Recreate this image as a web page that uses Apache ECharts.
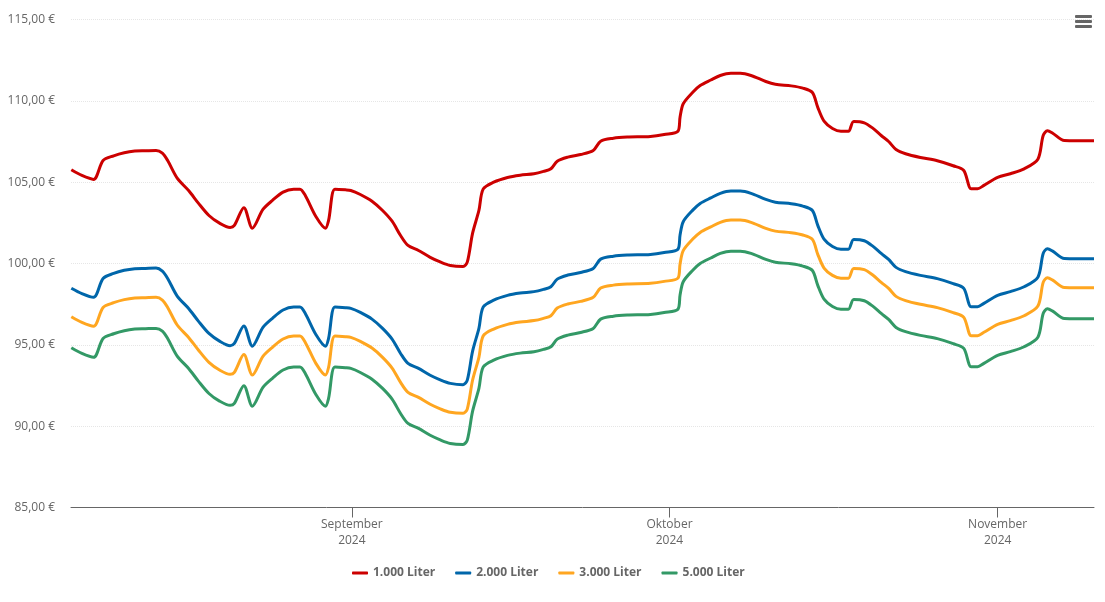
<!DOCTYPE html>
<html>
<head>
<meta charset="utf-8">
<title>Heizölpreise</title>
<style>
    html, body { margin: 0; padding: 0; background: #fff; }
    #chart { width: 1105px; height: 602px; }
</style>
<script src="https://cdn.jsdelivr.net/npm/echarts@6/dist/echarts.min.js"></script>
</head>
<body>
<div id="chart"></div>
<script>
// Tage relativ zum 1. September 2024
var dayOffsets = [-26.5,-25.5,-24.4,-23.5,-22.5,-21.5,-20.5,-19.5,-18.5,-17.9,-17.4,-16.5,-15.4,-14.5,-13.5,-12.5,-11.5,-11.1,-10.2,-9.4,-8.4,-7.5,-6.5,-5.5,-4.9,-4.4,-3.4,-2.5,-2.2,-1.6,-0.6,-0.1,0.8,1.9,2.9,3.8,4.6,5.3,6.3,7.4,8.4,9.3,10.5,10.9,11.4,12.0,12.4,13.4,14.7,15.9,17.2,18.1,18.8,19.4,20.4,21.6,22.8,23.5,24.7,26.0,28.2,29.5,30.8,31.0,31.3,32.2,32.9,33.9,34.8,35.8,36.7,37.7,39.1,40.0,41.5,42.6,43.5,44.0,44.6,45.4,46.2,46.9,47.4,48.4,49.2,50.0,50.7,51.4,52.3,53.7,55.3,56.8,57.8,58.5,59.1,59.7,61.0,62.2,63.5,64.8,65.3,65.7,66.2,67.3,70.1];

var liter1000 = [105.76,105.41,105.17,106.33,106.62,106.81,106.91,106.93,106.95,106.78,106.33,105.25,104.47,103.71,102.95,102.48,102.22,102.34,103.43,102.17,103.32,103.88,104.39,104.57,104.57,104.18,102.89,102.17,102.65,104.57,104.53,104.49,104.24,103.83,103.26,102.60,101.72,101.11,100.80,100.38,100.08,99.88,99.82,100.08,101.85,103.26,104.57,105.0,105.29,105.43,105.52,105.66,105.82,106.29,106.54,106.70,106.95,107.52,107.70,107.77,107.81,107.93,108.13,109.0,109.82,110.53,110.94,111.28,111.56,111.70,111.70,111.56,111.19,111.02,110.92,110.78,110.51,109.61,108.75,108.30,108.13,108.13,108.73,108.65,108.32,107.87,107.50,107.01,106.75,106.52,106.32,106.01,105.72,104.59,104.59,104.8,105.29,105.52,105.82,106.41,107.87,108.16,108.01,107.56,107.54];
var liter2000 = [98.48,98.15,97.92,99.08,99.39,99.58,99.68,99.70,99.72,99.53,99.08,98.00,97.22,96.46,95.70,95.23,94.95,95.09,96.16,94.92,96.07,96.63,97.14,97.32,97.32,96.93,95.64,94.92,95.40,97.32,97.28,97.24,96.99,96.58,96.01,95.35,94.47,93.86,93.55,93.13,92.83,92.63,92.55,92.83,94.60,96.01,97.32,97.75,98.04,98.18,98.27,98.41,98.57,99.04,99.29,99.45,99.70,100.27,100.45,100.52,100.56,100.68,100.88,101.75,102.57,103.28,103.69,104.03,104.31,104.45,104.45,104.31,103.94,103.77,103.67,103.53,103.26,102.36,101.50,101.05,100.88,100.88,101.48,101.40,101.07,100.62,100.25,99.76,99.50,99.27,99.07,98.76,98.47,97.34,97.34,97.55,98.04,98.27,98.57,99.16,100.62,100.91,100.76,100.31,100.29];
var liter3000 = [96.73,96.38,96.14,97.30,97.59,97.78,97.88,97.90,97.92,97.75,97.30,96.22,95.44,94.68,93.92,93.45,93.19,93.31,94.40,93.14,94.29,94.85,95.36,95.54,95.54,95.15,93.86,93.14,93.62,95.54,95.50,95.46,95.21,94.80,94.23,93.57,92.69,92.08,91.77,91.35,91.05,90.85,90.79,91.05,92.82,94.23,95.54,95.97,96.26,96.40,96.49,96.63,96.79,97.26,97.51,97.67,97.92,98.49,98.67,98.74,98.78,98.90,99.10,99.97,100.79,101.50,101.91,102.25,102.53,102.67,102.67,102.53,102.16,101.99,101.89,101.75,101.48,100.58,99.72,99.27,99.10,99.10,99.70,99.62,99.29,98.84,98.47,97.98,97.72,97.49,97.29,96.98,96.69,95.56,95.56,95.77,96.26,96.49,96.79,97.38,98.84,99.13,98.98,98.53,98.51];
var liter5000 = [94.82,94.47,94.23,95.39,95.68,95.87,95.97,95.99,96.01,95.84,95.39,94.31,93.53,92.77,92.01,91.54,91.28,91.40,92.49,91.23,92.38,92.94,93.45,93.63,93.63,93.24,91.95,91.23,91.71,93.63,93.59,93.55,93.30,92.89,92.32,91.66,90.78,90.17,89.86,89.44,89.14,88.94,88.88,89.14,90.91,92.32,93.63,94.06,94.35,94.49,94.58,94.72,94.88,95.35,95.60,95.76,96.01,96.58,96.76,96.83,96.87,96.99,97.19,98.06,98.88,99.59,100.0,100.34,100.62,100.76,100.76,100.62,100.25,100.08,99.98,99.84,99.57,98.67,97.81,97.36,97.19,97.19,97.79,97.71,97.38,96.93,96.56,96.07,95.81,95.58,95.38,95.07,94.78,93.65,93.65,93.86,94.35,94.58,94.88,95.47,96.93,97.22,97.07,96.62,96.60];

var seriesNames = ['1.000 Liter', '2.000 Liter', '3.000 Liter', '5.000 Liter'];
var seriesColors = ['#cc0000', '#0066aa', '#ffa620', '#339966'];
var seriesValues = [liter1000, liter2000, liter3000, liter5000];
var monthNames = ['Januar', 'Februar', 'März', 'April', 'Mai', 'Juni', 'Juli', 'August', 'September', 'Oktober', 'November', 'Dezember'];

var dayMs = 86400000;
var sep1 = new Date(2024, 8, 1).getTime();
var font = '"Open Sans", sans-serif';

function toPoints(values) {
    return values.map(function (v, i) {
        return [sep1 + dayOffsets[i] * dayMs, v];
    });
}

var chart = echarts.init(document.getElementById('chart'));

var option = {
    animation: false,
    backgroundColor: '#fff',
    color: seriesColors,
    textStyle: { fontFamily: font },
    grid: { left: 71, right: 11, top: 19.5, bottom: 94.5 },
    legend: {
        data: seriesNames,
        left: 347,
        top: 562,
        icon: 'roundRect',
        itemWidth: 16,
        itemHeight: 3,
        itemGap: 20,
        textStyle: { fontFamily: font, fontSize: 12, fontWeight: 'bold', color: '#666666' }
    },
    xAxis: {
        type: 'time',
        min: sep1 - 26.53 * dayMs,
        max: sep1 + 70.1 * dayMs,
        minInterval: 28 * dayMs,
        axisLine: { lineStyle: { color: '#666666', width: 1 } },
        axisTick: { show: true, length: 10, lineStyle: { color: '#666666' } },
        splitLine: { show: false },
        axisLabel: {
            showMinLabel: false,
            showMaxLabel: false,
            color: '#666666',
            fontFamily: font,
            fontSize: 12,
            lineHeight: 16,
            margin: 9,
            hideOverlap: false,
            formatter: function (value) {
                var d = new Date(value);
                return monthNames[d.getMonth()] + '\n' + d.getFullYear();
            }
        }
    },
    yAxis: {
        type: 'value',
        min: 85,
        max: 115,
        interval: 5,
        axisLine: { show: false },
        axisTick: { show: false },
        splitLine: { lineStyle: { color: '#e6e6e6', type: 'dotted', width: 1 } },
        axisLabel: {
            color: '#666666',
            fontFamily: font,
            fontSize: 12,
            margin: 16,
            padding: [8, 0, 0, 0],
            formatter: function (value) {
                return value.toFixed(2).replace('.', ',') + ' €';
            }
        }
    },
    series: seriesNames.map(function (name, i) {
        return {
            name: name,
            type: 'line',
            data: toPoints(seriesValues[i]),
            showSymbol: false,
            smooth: 0.3,
            lineStyle: { width: 3, color: seriesColors[i] },
            itemStyle: { color: seriesColors[i] }
        };
    }),
    // Menü-Symbol oben rechts
    graphic: [
        { type: 'rect', right: 13, top: 15, shape: { width: 17, height: 3, r: 1 }, style: { fill: '#666666' } },
        { type: 'rect', right: 13, top: 20, shape: { width: 17, height: 3, r: 1 }, style: { fill: '#666666' } },
        { type: 'rect', right: 13, top: 25, shape: { width: 17, height: 3, r: 1 }, style: { fill: '#666666' } }
    ]
};

chart.setOption(option);
</script>
</body>
</html>
